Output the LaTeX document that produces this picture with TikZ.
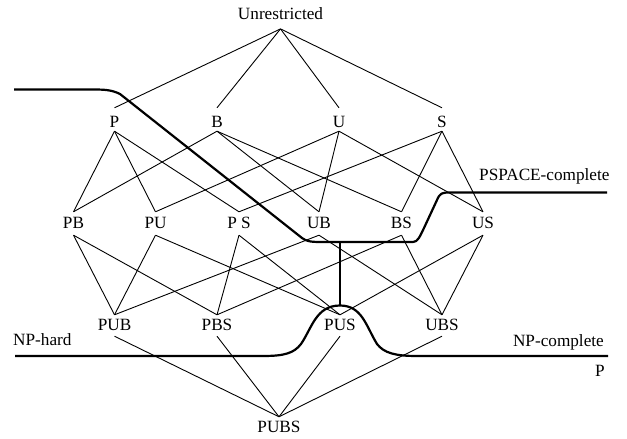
\documentclass[tikz,border=0pt]{standalone}
\usepackage{fontspec}
\setmainfont{Liberation Serif}
\begin{document}
\begin{tikzpicture}[x=1bp,y=-1bp,
  lab/.style={inner sep=0pt, anchor=base, font=\fontsize{17.2bp}{20bp}\selectfont},
  row0/.style={lab, text height=11.4bp, text depth=9bp},
  row1/.style={lab, text height=20bp, text depth=3bp},
  row2/.style={lab, text height=16.5bp, text depth=6.5bp},
  row3/.style={lab, text height=15.5bp, text depth=5.5bp},
  row4/.style={lab, text height=15.5bp, text depth=0bp},
  edge/.style={line width=0.9bp},
  bound/.style={line width=2.2bp, line join=round},
  txt/.style={inner sep=0pt, font=\fontsize{17.2bp}{20bp}\selectfont}]
\useasboundingbox (0,0) rectangle (627,439);
% nodes
\node[row0] (Unr) at (280.5,19.7) {Unrestricted};
\node[row1] (P) at (114.5,128) {P};
\node[row1] (B) at (217,128) {B};
\node[row1] (U) at (339,128) {U};
\node[row1] (S) at (442,128) {S};
\node[row2] (PB) at (73.5,228.5) {PB};
\node[row2] (PU) at (155.5,228.5) {PU};
\node[row2] (PS) at (239,228.5) {P S};
\node[row2] (UB) at (319,228.5) {UB};
\node[row2] (BS) at (401.5,228.5) {BS};
\node[row2] (US) at (483,228.5) {US};
\node[row3] (PUB) at (114.5,330.5) {PUB};
\node[row3] (PBS) at (217,330.5) {PBS};
\node[row3] (PUS) at (340,330.5) {PUS};
\node[row3] (UBS) at (442,330.5) {UBS};
\node[row4] (PUBS) at (279,432.5) {PUBS};
% edges
\foreach \a/\b in {Unr/P,Unr/B,Unr/U,Unr/S,
  P/PB,P/PU,P/PS, B/PB,B/UB,B/BS, U/PU,U/UB,U/US, S/PS,S/BS,S/US,
  PB/PUB,PB/PBS, PU/PUB,PU/PUS, PS/PBS,PS/PUS, UB/PUB,UB/UBS, BS/PBS,BS/UBS, US/PUS,US/UBS,
  PUB/PUBS,PBS/PUBS,PUS/PUBS,UBS/PUBS}
  \draw[edge] (\a.south) -- (\b.north);
% boundaries
\draw[bound] (14,89.5) -- (93,89.5) .. controls (105,89.5) and (112,90) .. (120,94)
  -- (302,238) .. controls (306,241) and (310,242) .. (320,242) -- (413,242)
  .. controls (418,242) and (420,236) .. (424,228) -- (437,200)
  .. controls (440,193) and (442,192.5) .. (450,192.5) -- (607,192.5);
\draw[bound] (340,242) -- (340,305.5);
\draw[bound] (15,356) -- (263,356) .. controls (285,356) and (294,353) .. (301,344)
  .. controls (312,328) and (316,305.5) .. (340,305.5)
  .. controls (362,305.5) and (366,326) .. (377,344)
  .. controls (384,353) and (395,356) .. (417,356) -- (608,356);
% labels
\node[txt, anchor=base west] (pspace) at (479,181) {PSPACE-complete};
\node[txt, anchor=base west] (nphard) at (13,345.5) {NP-hard};
\node[txt, anchor=base east] (npc) at (604,346) {NP-complete};
\node[txt, anchor=base east] (pcls) at (605,376) {P};
\end{tikzpicture}
\end{document}
